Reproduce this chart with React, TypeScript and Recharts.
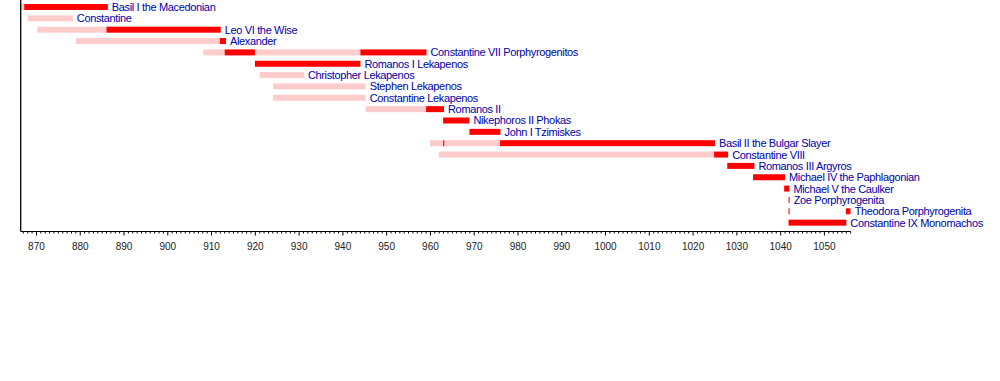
import React from "react";
import { ComposedChart, Bar, XAxis, YAxis, LabelList, ReferenceLine } from "recharts";

type Span = [number, number] | null;

const emperors: string[] = [
  "Basil I the Macedonian",
  "Constantine",
  "Leo VI the Wise",
  "Alexander",
  "Constantine VII Porphyrogenitos",
  "Romanos I Lekapenos",
  "Christopher Lekapenos",
  "Stephen Lekapenos",
  "Constantine Lekapenos",
  "Romanos II",
  "Nikephoros II Phokas",
  "John I Tzimiskes",
  "Basil II the Bulgar Slayer",
  "Constantine VIII",
  "Romanos III Argyros",
  "Michael IV the Paphlagonian",
  "Michael V the Caulker",
  "Zoe Porphyrogenita",
  "Theodora Porphyrogenita",
  "Constantine IX Monomachos",
];

// co-emperor periods (light)
const coReignA: Span[] = [
  [866.4, 867.2],
  [868.0, 878.3],
  [870.2, 886.0],
  [879.0, 911.9],
  [908.1, 913.0],
  null,
  [921.0, 931.1],
  [924.1, 945.2],
  [924.0, 945.2],
  [945.2, 959.0],
  null,
  null,
  [959.9, 975.9],
  [961.9, 1024.8],
  null,
  null,
  null,
  null,
  null,
  null,
];
const coReignB: Span[] = [
  null, null, null, null,
  [919.9, 944.0],
  null, null, null, null, null, null, null, null, null, null, null, null, null, null, null,
];

// senior / sole emperor periods (red)
const soleReignA: Span[] = [
  [867.2, 886.3],
  null,
  [886.0, 912.1],
  [911.9, 913.3],
  [913.0, 919.9],
  [919.9, 944.0],
  null,
  null,
  null,
  [959.0, 963.1],
  [962.9, 968.9],
  [968.9, 976.0],
  [975.9, 1025.0],
  [1024.8, 1028.0],
  [1027.8, 1034.0],
  [1033.7, 1041.0],
  [1040.8, 1042.0],
  null,
  [1054.9, 1056.0],
  [1041.8, 1055.0],
];
const soleReignB: Span[] = [
  null, null, null, null,
  [944.0, 959.1],
  null, null, null, null, null, null, null, null, null, null, null, null, null, null, null,
];
// very short reigns (thin marks)
const briefReign: Span[] = [
  null, null, null, null, null, null, null, null, null, null, null, null,
  [962.9, 963.15],
  null, null, null, null,
  [1041.8, 1042.05],
  [1041.8, 1042.05],
  null,
];

const majorTicks: number[] = [870, 880, 890, 900, 910, 920, 930, 940, 950, 960, 970, 980, 990, 1000, 1010, 1020, 1030, 1040, 1050];
const axisDomain: [number, number] = [866.4, 1056];
const yearTicks: number[] = Array.from({ length: 1056 - 867 + 1 }, (_, i) => 867 + i);

const rows = emperors.map((name, i) => {
  const spans = [coReignA[i], coReignB[i], soleReignA[i], soleReignB[i], briefReign[i]].filter(
    (s): s is [number, number] => s !== null
  );
  const start = Math.min(...spans.map((s) => s[0]));
  const end = Math.max(...spans.map((s) => s[1]));
  return {
    name,
    extent: [start, end],
    coA: coReignA[i],
    coB: coReignB[i],
    soleA: soleReignA[i],
    soleB: soleReignB[i],
    brief: briefReign[i],
  };
});

const PINK = "#ffcccc";
const RED = "#ff0000";
const FONT = "'Liberation Sans', Arial, Helvetica, sans-serif";

const makeShape = (key: string, fill: string) => (p: any) => {
  if (!p || !p.payload || !p.payload[key]) return <g />;
  if (!isFinite(p.x) || !isFinite(p.width)) return <g />;
  return <rect x={p.x} y={p.y} width={Math.max(p.width, 0)} height={p.height} fill={fill} />;
};

const YearTick = (props: any) => {
  const { x, y, payload } = props;
  const v = payload.value;
  const major = majorTicks.includes(v);
  return (
    <g>
      <line x1={x} y1={y} x2={x} y2={y + (major ? 4 : 2)} stroke="#000" strokeWidth={1} />
      {major && (
        <text x={x} y={y + 18.5} textAnchor="middle" fontSize={10} fill="#222" fontFamily={FONT}>
          {v}
        </text>
      )}
    </g>
  );
};

const NameLabel = (p: any) => {
  const x = Number(p.x) + Number(p.width) + 4;
  const y = Number(p.y) + Number(p.height) / 2;
  return (
    <text
      x={x}
      y={y}
      dy="0.36em"
      textAnchor="start"
      fill="#0000a8"
      fontSize={11}
      fontFamily={FONT}
      letterSpacing={-0.35}
    >
      {p.value}
    </text>
  );
};

export default function App() {
  return (
    <div style={{ position: "absolute", left: 0, top: 0, width: 1000, height: 381, background: "#fff" }}>
      <ComposedChart
        width={1000}
        height={381}
        data={rows}
        layout="vertical"
        margin={{ top: 0, right: 149.3, bottom: 119.5, left: 20.7 }}
        barGap={-6}
        barCategoryGap={0}
      >
        <XAxis
          type="number"
          domain={axisDomain}
          allowDataOverflow
          ticks={yearTicks}
          interval={0}
          tickLine={false}
          tickSize={0}
          tickMargin={0}
          tick={<YearTick />}
          axisLine={{ stroke: "#000", strokeWidth: 1 }}
          height={30}
        />
        <YAxis
          type="category"
          dataKey="name"
          width={0}
          tick={false}
          tickLine={false}
          axisLine={false}
          padding={{ top: 1, bottom: 3.5 }}
        />
        <ReferenceLine x={axisDomain[0]} stroke="#000" strokeWidth={1.3} ifOverflow="visible" />
        <Bar dataKey="extent" barSize={6} fill="none" isAnimationActive={false} shape={() => <g />}>
          <LabelList dataKey="name" content={<NameLabel />} />
        </Bar>
        <Bar dataKey="coA" barSize={6} isAnimationActive={false} shape={makeShape("coA", PINK)} />
        <Bar dataKey="coB" barSize={6} isAnimationActive={false} shape={makeShape("coB", PINK)} />
        <Bar dataKey="soleA" barSize={6} isAnimationActive={false} shape={makeShape("soleA", RED)} />
        <Bar dataKey="soleB" barSize={6} isAnimationActive={false} shape={makeShape("soleB", RED)} />
        <Bar dataKey="brief" barSize={6} isAnimationActive={false} shape={makeShape("brief", RED)} />
      </ComposedChart>
    </div>
  );
}
